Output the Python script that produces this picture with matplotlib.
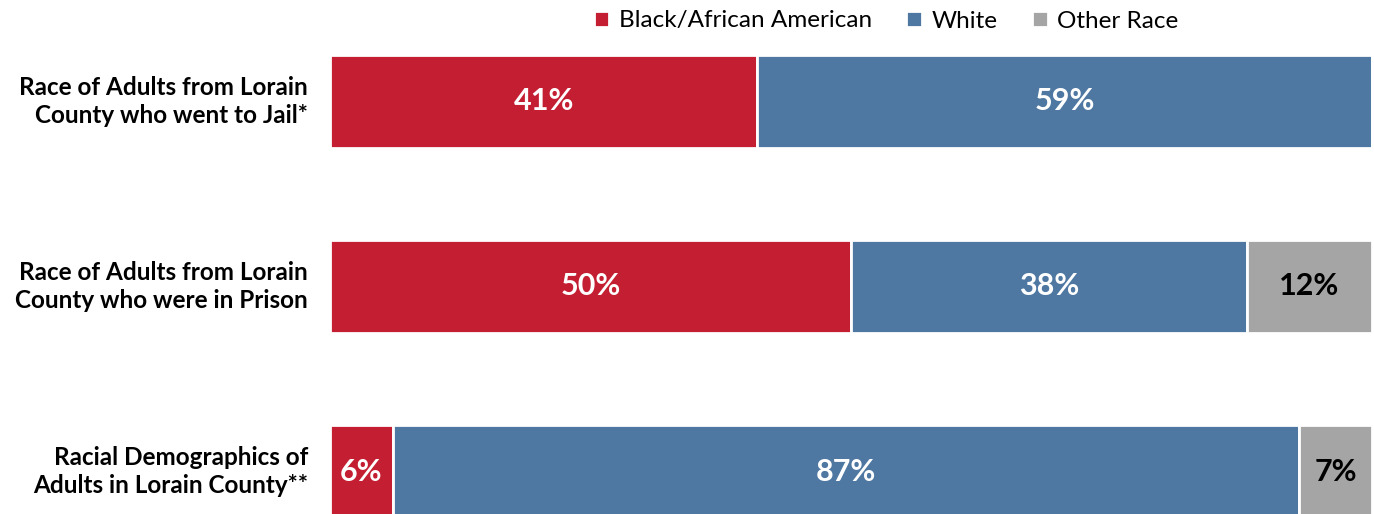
import matplotlib.pyplot as plt
import numpy as np

plt.rcParams['font.family'] = ['Lato', 'DejaVu Sans']

groups = ['Race of Adults from Lorain\nCounty who went to Jail*',
          'Race of Adults from Lorain\nCounty who were in Prison',
          'Racial Demographics of\nAdults in Lorain County**']
races = ['Black/African American', 'White', 'Other Race']
black = [41, 50, 6]
white = [59, 38, 87]
other = [0, 12, 7]

colors = ['#C41E32', '#4E78A2', '#A5A5A5']
text_colors = ['white', 'white', 'black']

fig = plt.figure(figsize=(13.74, 5.14), dpi=100)
ax = fig.add_axes([330 / 1374, 0, 1042 / 1374, 1])

y = np.arange(len(groups))
left = np.zeros(len(groups))
handles = []
for vals, c, tc, name in zip([black, white, other], colors, text_colors, races):
    vals = np.array(vals, dtype=float)
    bars = ax.barh(y, vals, left=left, height=0.503, color=c,
                   edgecolor='white', linewidth=2, label=name)
    handles.append(bars)
    for yi, l, v in zip(y, left, vals):
        if v > 0:
            ax.text(l + v / 2, yi, f'{v:.0f}%', ha='center', va='center',
                    fontsize=22, fontweight='bold', color=tc)
    left += vals

ax.set_xlim(0, 100)
ax.set_ylim(2.2297, -0.5486)
ax.axis('off')

for yi, g in zip(y, groups):
    ax.text(-2.1, yi, g, ha='right', va='center', fontsize=17.5,
            fontweight='bold', linespacing=1.3)

fig.legend(handles=handles, labels=races, loc='center', ncol=3,
           bbox_to_anchor=(886 / 1374, 1 - 21 / 514), frameon=False,
           fontsize=17.5, handlelength=0.65, handleheight=0.65,
           handletextpad=0.4, columnspacing=1.4)

fig.savefig('out.png', dpi=100)
